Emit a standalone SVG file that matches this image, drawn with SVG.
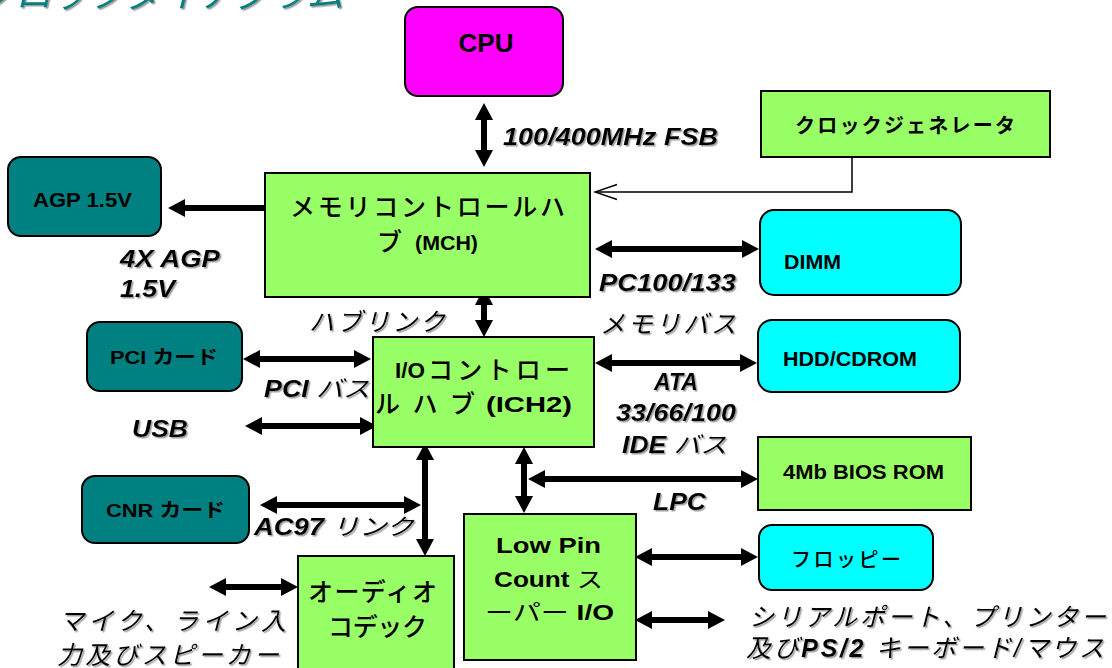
<svg xmlns="http://www.w3.org/2000/svg" width="1112" height="668" viewBox="0 0 1112 668">
<style>
.box{stroke:#000;stroke-width:2}
.green{fill:#99FF66}
.teal{fill:#008080}
.cyan{fill:#00FFFF}
.mag{fill:#FF00FF}
.en{font-family:"Liberation Sans",Arial,sans-serif;font-weight:bold;fill:#000}
.jp{font-family:"Noto Sans CJK JP",sans-serif;fill:#000;font-weight:500}
.lbl{font-family:"Liberation Sans","Noto Sans CJK JP",sans-serif;font-style:italic;fill:#000;filter:url(#sh)}
.b{font-weight:bold}
.conn line{stroke:#000;stroke-width:6;fill:none;marker-start:url(#ah);marker-end:url(#ah)}
</style>
<defs>
<filter id="sh" x="-10%" y="-20%" width="130%" height="150%">
<feDropShadow dx="1.5" dy="1.5" stdDeviation="0.6" flood-color="#888" flood-opacity="0.8"/>
</filter>
<marker id="ah" markerUnits="userSpaceOnUse" viewBox="0 0 17 18" markerWidth="17" markerHeight="18" refX="5" refY="9" orient="auto-start-reverse">
<path d="M0,0 L17,9 L0,18 z" fill="#000"/>
</marker>
<marker id="open" markerUnits="userSpaceOnUse" viewBox="-24 -9 26 18" markerWidth="26" markerHeight="18" refX="0" refY="0" orient="auto">
<path d="M-22,-7.5 L0,0 L-22,7.5" fill="none" stroke="#000" stroke-width="1.5"/>
</marker>
</defs>
<rect width="1112" height="668" fill="#fff"/>

<text x="-22" y="7" font-family="Noto Sans CJK JP,sans-serif" font-style="italic" font-size="37" fill="#008080" filter="url(#sh)">ブロックダイアグラム</text>

<g id="connectors" class="conn">
<line x1="484" y1="115" x2="484" y2="155"/>
<line x1="265" y1="208" x2="180" y2="208" style="marker-start:none"/>
<path d="M852,157 L852,192 L595,192" fill="none" stroke="#000" stroke-width="1.5" marker-end="url(#open)"/>
<line x1="607" y1="249" x2="747" y2="249"/>
<line x1="484" y1="300" x2="484" y2="325"/>
<line x1="255" y1="359" x2="359" y2="359"/>
<line x1="257" y1="426" x2="365" y2="426"/>
<line x1="607" y1="363" x2="745" y2="363"/>
<line x1="425" y1="455" x2="425" y2="544"/>
<line x1="272" y1="505" x2="409" y2="505"/>
<line x1="524" y1="459" x2="524" y2="501"/>
<line x1="540" y1="479" x2="746" y2="479"/>
<line x1="221" y1="587" x2="286" y2="587"/>
<line x1="647" y1="557" x2="746" y2="557"/>
<line x1="647" y1="620" x2="713" y2="620"/>
</g>

<g id="cpu">
<rect class="box mag" x="405" y="7" width="158" height="89" rx="13"/>
<text class="en" x="486" y="52" font-size="26" text-anchor="middle">CPU</text>
</g>
<text id="fsb-label" class="lbl b" x="503" y="145" font-size="24" textLength="215" lengthAdjust="spacingAndGlyphs">100/400MHz FSB</text>

<g id="clock">
<rect class="box green" x="761" y="91" width="289" height="66"/>
<text class="jp b" x="795" y="133" font-size="20" textLength="220">クロックジェネレータ</text>
</g>

<g id="mch">
<rect class="box green" x="265" y="173" width="325" height="124"/>
<text class="jp" x="290" y="216" font-size="25" textLength="275">メモリコントロールハ</text>
<text class="jp" x="377" y="251" font-size="25">ブ</text>
<text class="en" x="415" y="250" font-size="20" textLength="63" lengthAdjust="spacingAndGlyphs">(MCH)</text>
</g>

<g id="agp">
<rect class="box teal" x="8" y="157" width="153" height="79" rx="13"/>
<text class="en" x="33" y="207" font-size="20" textLength="99" lengthAdjust="spacingAndGlyphs">AGP 1.5V</text>
</g>
<text class="lbl b" x="120" y="267" font-size="23" textLength="100" lengthAdjust="spacingAndGlyphs">4X AGP</text>
<text class="lbl b" x="120" y="297" font-size="23" textLength="55" lengthAdjust="spacingAndGlyphs">1.5V</text>

<g id="dimm">
<rect class="box cyan" x="760" y="210" width="201" height="85" rx="14"/>
<text class="en" x="784" y="269" font-size="20" textLength="57" lengthAdjust="spacingAndGlyphs">DIMM</text>
</g>
<text class="lbl b" x="599" y="291" font-size="23" textLength="137" lengthAdjust="spacingAndGlyphs">PC100/133</text>
<text class="lbl" x="600" y="333" font-size="25" textLength="136">メモリバス</text>
<text class="lbl" x="309" y="331" font-size="25" textLength="136">ハブリンク</text>

<g id="ich">
<rect class="box green" x="373" y="337" width="221" height="110"/>
<text class="en" x="395" y="378" font-size="22" textLength="30" lengthAdjust="spacingAndGlyphs">I/O</text>
<text class="jp" x="428" y="379" font-size="25" textLength="142">コントロー</text>
<text class="jp" x="375" y="413" font-size="25" textLength="100">ルハブ</text>
<text class="en" x="486" y="412" font-size="22" textLength="86" lengthAdjust="spacingAndGlyphs">(ICH2)</text>
</g>

<g id="pci">
<rect class="box teal" x="87" y="322" width="155" height="69" rx="13"/>
<text class="en" x="110" y="364" font-size="19" textLength="108" lengthAdjust="spacingAndGlyphs">PCI <tspan font-family="Noto Sans CJK JP,sans-serif">カード</tspan></text>
</g>
<text class="lbl" x="264" y="397" font-size="23" textLength="106" lengthAdjust="spacingAndGlyphs"><tspan font-weight="bold">PCI</tspan> バス</text>
<text class="lbl b" x="132" y="437" font-size="23" textLength="56" lengthAdjust="spacingAndGlyphs">USB</text>

<g id="hdd">
<rect class="box cyan" x="758" y="320" width="202" height="72" rx="14"/>
<text class="en" x="783" y="366" font-size="20" textLength="134" lengthAdjust="spacingAndGlyphs">HDD/CDROM</text>
</g>
<text class="lbl b" x="676" y="390" font-size="23" text-anchor="middle">ATA</text>
<text class="lbl b" x="616" y="421" font-size="23" textLength="120" lengthAdjust="spacingAndGlyphs">33/66/100</text>
<text class="lbl" x="622" y="453" font-size="23" textLength="105" lengthAdjust="spacingAndGlyphs"><tspan font-weight="bold">IDE</tspan> バス</text>

<g id="bios">
<rect class="box green" x="758" y="437" width="213" height="73"/>
<text class="en" x="783" y="479" font-size="20" textLength="161" lengthAdjust="spacingAndGlyphs">4Mb BIOS ROM</text>
</g>
<text class="lbl b" x="653" y="510" font-size="23" textLength="53" lengthAdjust="spacingAndGlyphs">LPC</text>

<g id="cnr">
<rect class="box teal" x="82" y="476" width="167" height="67" rx="13"/>
<text class="en" x="106" y="517" font-size="19" textLength="119" lengthAdjust="spacingAndGlyphs">CNR <tspan font-family="Noto Sans CJK JP,sans-serif">カード</tspan></text>
</g>
<text class="lbl" x="254" y="535" font-size="23" textLength="160" lengthAdjust="spacingAndGlyphs"><tspan font-weight="bold">AC97</tspan> リンク</text>

<g id="audio">
<rect class="box green" x="298" y="556" width="156" height="120"/>
<text class="jp" x="308" y="601" font-size="25" textLength="129">オーディオ</text>
<text class="jp" x="328" y="636" font-size="25" textLength="99">コデック</text>
</g>
<text class="lbl" x="59" y="630" font-size="25" textLength="227">マイク、ライン入</text>
<text class="lbl" x="57" y="664" font-size="25" textLength="222">力及びスピーカー</text>

<g id="lpcio">
<rect class="box green" x="464" y="514" width="172" height="146"/>
<text class="en" x="496" y="553" font-size="22" textLength="105" lengthAdjust="spacingAndGlyphs">Low Pin</text>
<text class="en" x="494" y="587" font-size="22" textLength="109" lengthAdjust="spacingAndGlyphs">Count <tspan font-family="Noto Sans CJK JP,sans-serif" font-weight="normal">ス</tspan></text>
<text class="en" x="485" y="620" font-size="22" textLength="129" lengthAdjust="spacingAndGlyphs"><tspan font-family="Noto Sans CJK JP,sans-serif" font-weight="normal">ーパー</tspan> I/O</text>
</g>

<g id="floppy">
<rect class="box cyan" x="759" y="525" width="174" height="65" rx="13"/>
<text class="jp" x="791" y="567" font-size="20" textLength="110">フロッピー</text>
</g>
<text class="lbl" x="749" y="626" font-size="25" textLength="357">シリアルポート、プリンター</text>
<text class="lbl" x="746" y="657" font-size="25" textLength="358">及び<tspan font-weight="bold">PS/2</tspan> キーボード/マウス</text>
</svg>
